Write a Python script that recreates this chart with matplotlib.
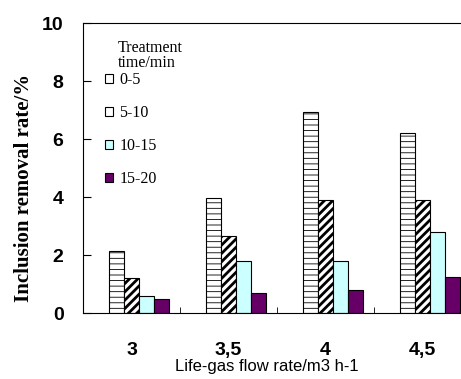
import matplotlib.pyplot as plt
import numpy as np

flow_rates = ['3', '3,5', '4', '4,5']
labels = ['0-5', '5-10', '10-15', '15-20']
v_0_5 = [2.15, 3.98, 6.92, 6.2]
v_5_10 = [1.2, 2.67, 3.89, 3.89]
v_10_15 = [0.58, 1.79, 1.79, 2.8]
v_15_20 = [0.48, 0.7, 0.78, 1.24]

series = [v_0_5, v_5_10, v_10_15, v_15_20]
colors = ['white', 'white', '#CCFFFF', '#660066']
hatches = ['---', '////', '', '']
hatch_lw = [0.6, 2.0, 1.0, 1.0]

fig = plt.figure(figsize=(4.61, 3.79), dpi=100)
ax = fig.add_axes([83/461, 66/379, 378/461, 290/379])

x = np.arange(len(flow_rates))
w = 0.155
offs = [-0.153, 0.002, 0.157, 0.312]
for vals, c, h, lab, o, hl in zip(series, colors, hatches, labels, offs, hatch_lw):
    plt.rcParams['hatch.linewidth'] = hl
    bars = ax.bar(x + o, vals, w, color=c, hatch=h, edgecolor='black', linewidth=0.8, label=lab)
    for b in bars:
        if hasattr(b, 'set_hatch_linewidth'):
            b.set_hatch_linewidth(hl)

ax.set_xlim(-0.5, -0.5 + 378/97)
ax.set_ylim(0, 10)
ax.set_yticks([0, 2, 4, 6, 8, 10])
ax.set_xticks(x)
ax.set_xticklabels(flow_rates)
ax.set_xticks([0.5, 1.5, 2.5], minor=True)
ax.tick_params(axis='x', which='major', length=0, pad=21)
ax.tick_params(axis='x', which='minor', direction='in', length=4)
ax.tick_params(axis='y', direction='in', length=6, pad=14)
for t in ax.get_xticklabels() + ax.get_yticklabels():
    t.set_fontfamily('Liberation Sans')
    t.set_fontweight('bold')
    t.set_fontsize(14)
ax.spines['right'].set_visible(False)

ax.set_ylabel('Inclusion removal rate/%', family='Liberation Serif', fontweight='bold', fontsize=15)
ax.yaxis.set_label_coords(-0.13, 0.43)
ax.set_xlabel('Life-gas flow rate/m3 h-1', family='Liberation Sans', fontsize=12)
ax.xaxis.set_label_coords(0.487, -0.16)

leg = ax.legend(loc='upper left', bbox_to_anchor=(0.037, 0.857), borderpad=0,
                frameon=False, prop={'family': 'Liberation Serif', 'size': 11.5},
                handlelength=0.5, handleheight=0.5, handletextpad=0.4, labelspacing=1.05)
for hdl in leg.legend_handles:
    hdl.set_hatch('')
ax.text(0.093, 0.94, 'Treatment\ntime/min', transform=ax.transAxes, ha='left', va='top',
        family='Liberation Serif', fontsize=11.5, linespacing=0.9)

fig.savefig('out.png', dpi=100)
